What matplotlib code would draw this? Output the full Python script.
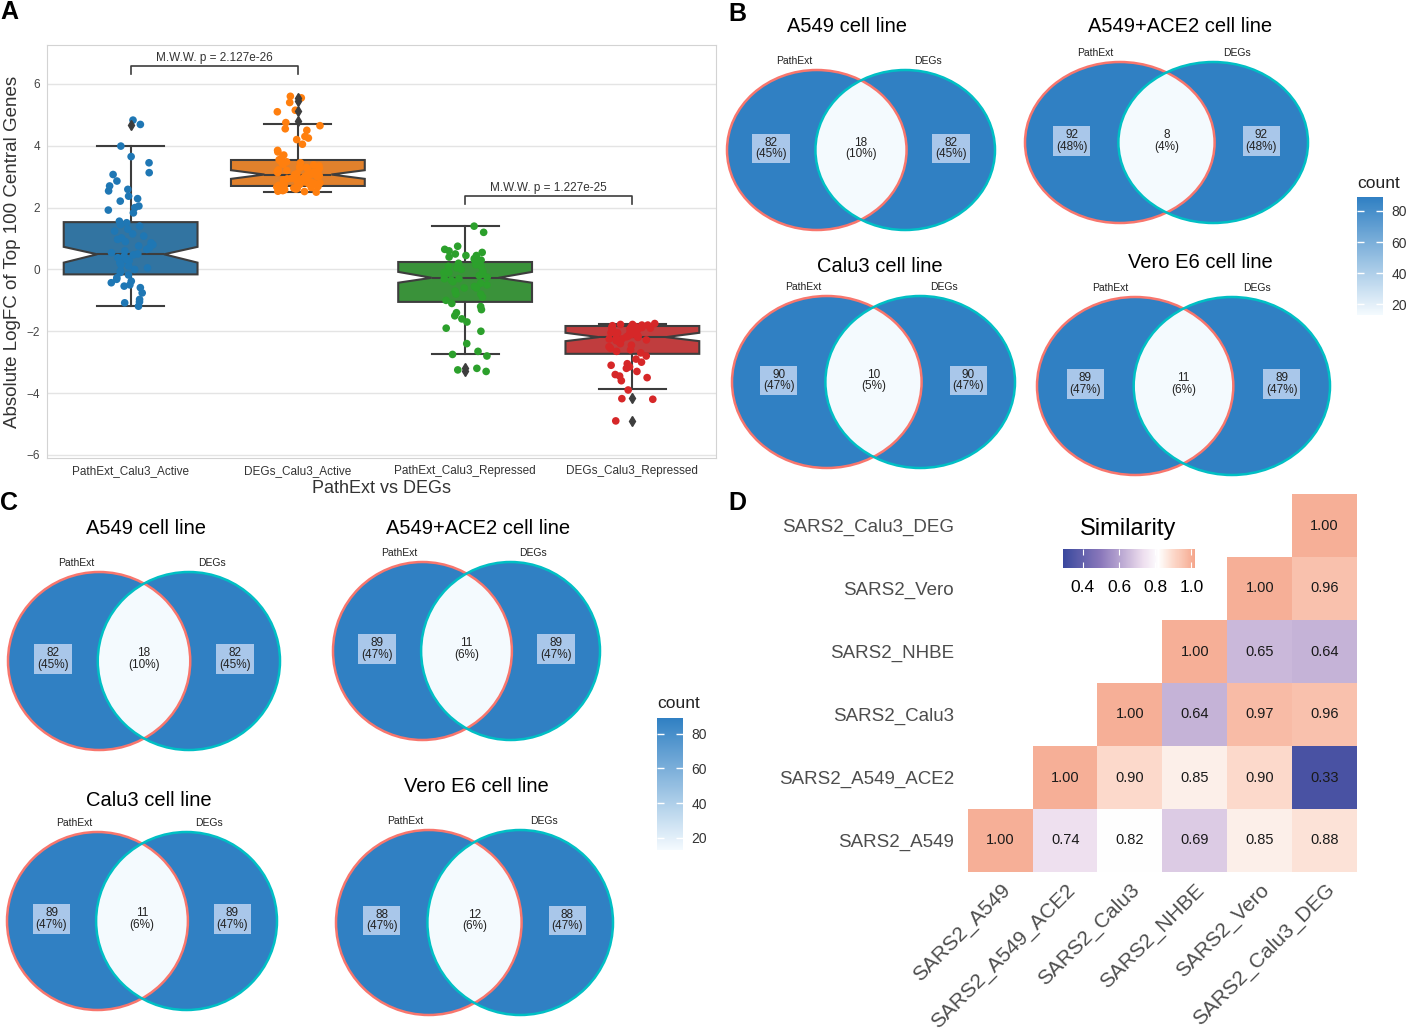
import numpy as np
import matplotlib.pyplot as plt
import seaborn as sns
from matplotlib.patches import Ellipse
from matplotlib.colors import LinearSegmentedColormap, Normalize
import matplotlib as mpl

plt.rcParams['font.family'] = ['Liberation Sans', 'DejaVu Sans']

W, H = 1408, 1032

# ---------------- panel A data ----------------
groups = ['PathExt_Calu3_Active', 'DEGs_Calu3_Active',
          'PathExt_Calu3_Repressed', 'DEGs_Calu3_Repressed']
box_q1 = [-0.16, 2.70, -1.05, -2.73]
box_med = [0.49, 3.07, -0.27, -2.19]
box_q3 = [1.53, 3.54, 0.24, -1.83]
notch_lo = [0.22, 2.93, -0.43, -2.32]
notch_hi = [0.73, 3.21, -0.08, -2.05]
whis_lo = [-1.19, 2.50, -2.75, -3.86]
whis_hi = [3.99, 4.71, 1.40, -1.75]
fliers = [[4.66], [5.55, 5.45, 5.12, 4.80], [-3.27, -3.20], [-4.15, -4.91]]

pts_pathext_active = [4.83, 4.69, 3.99, 3.65, 3.45, 3.13, 3.07, 2.86, 2.70, 2.59, 2.54,
                      2.37, 2.29, 2.21, 2.05, 2.00, 1.92, 1.83, 1.56, 1.51, 1.45, 1.40,
                      1.30, 1.24, 1.15, 1.08, 1.02, 0.97, 0.90, 0.86, 0.80, 0.76, 0.70,
                      0.65, 0.60, 0.54, 0.50, 0.47, 0.43, 0.38, 0.32, 0.28, 0.22, 0.15,
                      0.11, 0.05, 0.00, -0.05, -0.10, -0.18, -0.27, -0.32, -0.38, -0.43,
                      -0.50, -0.54, -0.59, -0.76, -0.97, -1.05, -1.08, -1.19]
pts_degs_active = [5.60, 5.55, 5.40, 5.15, 5.10, 4.75, 4.65, 4.55, 4.50, 4.30, 4.25, 4.20,
                   4.05, 3.85, 3.80, 3.70, 3.60, 3.55, 3.50, 3.45, 3.40, 3.35, 3.30, 3.28,
                   3.25, 3.20, 3.18, 3.15, 3.12, 3.10, 3.08, 3.05, 3.02, 3.00, 2.98, 2.95,
                   2.92, 2.90, 2.88, 2.85, 2.82, 2.80, 2.78, 2.75, 2.72, 2.70, 2.68, 2.65,
                   2.62, 2.60, 2.58, 2.55, 2.53, 2.50, 2.52, 2.57, 2.63, 2.67, 2.73, 2.77,
                   2.83, 2.87, 2.93, 2.97, 3.03, 3.07, 3.13, 3.17, 3.22, 3.27, 3.33, 3.38,
                   3.42, 3.48]
pts_pathext_repressed = [1.40, 1.20, 0.75, 0.65, 0.55, 0.50, 0.45, 0.40, 0.35, 0.30, 0.25,
                         0.20, 0.15, 0.10, 0.05, 0.00, -0.05, -0.10, -0.15, -0.20, -0.25,
                         -0.30, -0.35, -0.40, -0.45, -0.50, -0.55, -0.60, -0.70, -0.80,
                         -0.90, -1.00, -1.10, -1.20, -1.30, -1.40, -1.50, -1.60, -1.70,
                         -1.90, -2.00, -2.40, -2.65, -2.75, -2.80, -3.20, -3.25, -3.30,
                         0.30, 0.10, -0.10, -0.30, -0.60, -0.80, 0.45, 0.60]
pts_degs_repressed = [-1.75, -1.78, -1.80, -1.82, -1.85, -1.87, -1.90, -1.92, -1.95, -1.97,
                      -2.00, -2.02, -2.05, -2.08, -2.10, -2.12, -2.15, -2.18, -2.20, -2.22,
                      -2.25, -2.28, -2.30, -2.35, -2.40, -2.45, -2.50, -2.55, -2.60, -2.65,
                      -2.70, -2.80, -2.90, -3.00, -3.05, -3.10, -3.15, -3.20, -3.30, -3.40,
                      -3.45, -3.50, -3.60, -3.90, -4.20, -4.18, -4.90, -1.80, -1.85, -1.95,
                      -2.05, -2.15, -2.25, -1.78, -1.88, -2.00]
points = [pts_pathext_active, pts_degs_active, pts_pathext_repressed, pts_degs_repressed]
pvals = ['M.W.W. p = 2.127e-26', 'M.W.W. p = 1.227e-25']
pairs = [(0, 1), (2, 3)]
pair_y = [6.57, 2.36]

point_colors = ['#1f77b4', '#ff7f0e', '#2ca02c', '#d62728']
box_colors = ['#3274a1', '#e1812c', '#3a923a', '#c03d3e']

# ---------------- panels B / C data ----------------
set_names = ['PathExt', 'DEGs']
venn_titles = ['A549 cell line', 'A549+ACE2 cell line', 'Calu3 cell line', 'Vero E6 cell line']
venn_counts_b = [(82, 18, 82), (92, 8, 92), (90, 10, 90), (89, 11, 89)]
venn_counts_c = [(82, 18, 82), (89, 11, 89), (89, 11, 89), (88, 12, 88)]
count_ticks = [20, 40, 60, 80]

# ---------------- panel D data ----------------
sim_labels = ['SARS2_A549', 'SARS2_A549_ACE2', 'SARS2_Calu3', 'SARS2_NHBE',
              'SARS2_Vero', 'SARS2_Calu3_DEG']
sim_rows = [
    [1.00, 0.74, 0.82, 0.69, 0.85, 0.88],
    [None, 1.00, 0.90, 0.85, 0.90, 0.33],
    [None, None, 1.00, 0.64, 0.97, 0.96],
    [None, None, None, 1.00, 0.65, 0.64],
    [None, None, None, None, 1.00, 0.96],
    [None, None, None, None, None, 1.00],
]
sim_ticks = [0.4, 0.6, 0.8, 1.0]


def px(x0, y0, x1, y1):
    return [x0 / W, 1 - y1 / H, (x1 - x0) / W, (y1 - y0) / H]


fig = plt.figure(figsize=(W / 100, H / 100), dpi=100)

# ======================= A =======================
ax = fig.add_axes(px(47, 45, 716, 458))
np.random.seed(3)
xs = sum([[g] * len(v) for g, v in zip(groups, points)], [])
ys = sum(points, [])
sns.stripplot(x=xs, y=ys, order=groups, hue=xs, hue_order=groups,
              palette=point_colors, jitter=0.14, size=5.5, legend=False,
              ax=ax, zorder=3)
stats = []
for i in range(4):
    stats.append(dict(med=box_med[i], q1=box_q1[i], q3=box_q3[i],
                      cilo=notch_lo[i], cihi=notch_hi[i],
                      whislo=whis_lo[i], whishi=whis_hi[i], fliers=fliers[i]))
edge = '#3d3d3d'
bp = ax.bxp(stats, positions=range(4), widths=0.8, shownotches=True, patch_artist=True,
            boxprops=dict(edgecolor=edge, linewidth=1.5),
            whiskerprops=dict(color=edge, linewidth=1.5),
            capprops=dict(color=edge, linewidth=1.5),
            medianprops=dict(color=edge, linewidth=1.5),
            flierprops=dict(marker='d', markerfacecolor=edge, markeredgecolor=edge,
                            markersize=5),
            zorder=2)
for patch, c in zip(bp['boxes'], box_colors):
    patch.set_facecolor(c)
for fl in bp['fliers']:
    fl.set_zorder(4)

for (a, b), y, t in zip(pairs, pair_y, pvals):
    ax.plot([a, a, b, b], [y - 0.25, y, y, y - 0.25], color='#3d3d3d', lw=1.2)
    ax.text((a + b) / 2, y + 0.08, t, ha='center', va='bottom', fontsize=8.5,
            color='#333333')

ax.set_xlim(-0.5, 3.5)
ax.set_ylim(-6.1, 7.26)
ax.set_yticks([-6, -4, -2, 0, 2, 4, 6])
ax.set_xticks(range(4))
ax.set_xticklabels(groups, fontsize=8.5, color='#333333')
for lab in ax.get_yticklabels():
    lab.set_fontsize(8.5)
    lab.set_color('#444444')
ax.tick_params(length=0, pad=5)
ax.yaxis.grid(True, color='#e4e4e4', lw=1)
ax.xaxis.grid(False)
ax.set_axisbelow(True)
for s in ax.spines.values():
    s.set_color('#d3d3d3')
ax.set_xlabel('PathExt vs DEGs', fontsize=13, color='#333333', labelpad=2)
ax.set_ylabel('Absolute LogFC of Top 100 Central Genes', fontsize=13.5,
              color='#333333', labelpad=4)

# ======================= B & C =======================
count_cmap = LinearSegmentedColormap.from_list('count', ['#F4FAFE', '#3080C3'])
count_norm = Normalize(vmin=13, vmax=89, clip=True)


def draw_venn(box, counts):
    vax = fig.add_axes(px(*box))
    vax.set_xlim(0, 1)
    vax.set_ylim(0, 1)
    vax.axis('off')
    # fill scale runs from the smallest to the largest region of this diagram
    norm = Normalize(vmin=min(counts), vmax=max(counts))
    w = 0.67
    cl, cr = w / 2, 1 - w / 2
    left = Ellipse((cl, 0.5), w, 1, facecolor=count_cmap(norm(counts[0])),
                   edgecolor='none', clip_on=False)
    right = Ellipse((cr, 0.5), w, 1, facecolor=count_cmap(norm(counts[2])),
                    edgecolor='none', clip_on=False)
    vax.add_patch(left)
    vax.add_patch(right)
    inter = Ellipse((cr, 0.5), w, 1, facecolor=count_cmap(norm(counts[1])),
                    edgecolor='none')
    vax.add_patch(inter)
    inter.set_clip_path(left)
    vax.add_patch(Ellipse((cl, 0.5), w, 1, fill=False, edgecolor='#F8766D', lw=1.8,
                          clip_on=False, zorder=3))
    vax.add_patch(Ellipse((cr, 0.5), w, 1, fill=False, edgecolor='#00BFC4', lw=1.8,
                          clip_on=False, zorder=3))
    total = sum(counts)
    for x, c, boxed in [(0.165, counts[0], True), (0.5, counts[1], False),
                        (0.835, counts[2], True)]:
        bb = dict(boxstyle='square,pad=0.25', fc='#a9c7ea', ec='none') if boxed else None
        vax.text(x, 0.51, f'{c}\n({c / total:.0%})', ha='center', va='center',
                 fontsize=8.5, color='#222222', linespacing=0.95, bbox=bb, zorder=4)
    for x, name in zip([0.25, 0.75], set_names):
        vax.annotate(name, xy=(x, 1), xytext=(0, 3), textcoords='offset points',
                     ha='center', va='bottom', fontsize=7.5, color='#222222')


def draw_count_bar(box, label_xy):
    cax = fig.add_axes(px(*box))
    cb = mpl.colorbar.ColorbarBase(cax, cmap=count_cmap, norm=count_norm,
                                   ticks=count_ticks)
    cb.outline.set_visible(False)
    cax.tick_params(direction='in', color='white', length=5, width=1,
                    left=True, right=True, labelsize=10, labelcolor='#333333', pad=6)
    fig.text(label_xy[0] / W, 1 - label_xy[1] / H, 'count', fontsize=12.5,
             ha='left', va='center', color='#222222')


venn_boxes_b = [(727, 70, 995, 230), (1025, 62, 1308, 223),
                (732, 296, 1015, 468), (1037, 297, 1330, 475)]
title_pos_b = [(847, 26), (1180, 26), (880, 267), (1200, 263)]
venn_boxes_c = [(8, 572, 280, 750), (333, 562, 600, 740),
                (7, 832, 277, 1010), (336, 830, 613, 1015)]
title_pos_c = [(146, 529), (478, 529), (149, 800), (476, 787)]

for bx, tp, t, c in zip(venn_boxes_b, title_pos_b, venn_titles, venn_counts_b):
    draw_venn(bx, c)
    fig.text(tp[0] / W, 1 - tp[1] / H, t, ha='center', va='center', fontsize=14.5)
for bx, tp, t, c in zip(venn_boxes_c, title_pos_c, venn_titles, venn_counts_c):
    draw_venn(bx, c)
    fig.text(tp[0] / W, 1 - tp[1] / H, t, ha='center', va='center', fontsize=14.5)

draw_count_bar((1357, 197, 1383, 315), (1357, 183))
draw_count_bar((657, 718, 683, 850), (657, 703))

# ======================= D =======================
sim_vmin, sim_vmax = 0.29, 1.02
sim_nodes = [(0.29, '#3a479e'), (0.33, '#4952a3'), (0.50, '#8b78bb'), (0.64, '#c6b4d8'),
             (0.69, '#dccbe4'), (0.74, '#efe1f0'), (0.82, '#ffffff'), (0.85, '#fdf0ea'),
             (0.90, '#fcd9cb'), (0.96, '#f9c1ad'), (1.02, '#f5a68c')]
sim_cmap = LinearSegmentedColormap.from_list(
    'sim', [((v - sim_vmin) / (sim_vmax - sim_vmin), c) for v, c in sim_nodes])
sim_norm = Normalize(vmin=sim_vmin, vmax=sim_vmax)

M = np.array([[np.nan if v is None else v for v in r] for r in sim_rows])
hax = fig.add_axes(px(968, 494, 1357, 872))
hax.imshow(M, cmap=sim_cmap, norm=sim_norm, origin='lower', aspect='auto',
           interpolation='nearest')
for i in range(6):
    for j in range(6):
        if not np.isnan(M[i, j]):
            hax.text(j, i, f'{M[i, j]:.2f}', ha='center', va='center',
                     fontsize=10.5, color='#1a1a1a')
hax.set_xticks(range(6))
hax.set_yticks(range(6))
hax.set_xticklabels(sim_labels, rotation=45, ha='right', va='top',
                    rotation_mode='anchor', fontsize=15, color='#4d4d4d')
hax.set_yticklabels(sim_labels, fontsize=13.5, color='#4d4d4d')
hax.tick_params(length=0, pad=10)
hax.tick_params(axis='x', pad=6)
for s in hax.spines.values():
    s.set_visible(False)

lax = fig.add_axes(px(1063, 549, 1195, 568))
lcb = mpl.colorbar.ColorbarBase(lax, cmap=sim_cmap, norm=sim_norm,
                                orientation='horizontal', ticks=sim_ticks)
lcb.outline.set_visible(False)
lax.set_xticklabels([f'{t:.1f}' for t in sim_ticks])
lax.tick_params(direction='in', color='white', length=4, bottom=True, top=True,
                labelsize=12.5, pad=9)
fig.text(1128 / W, 1 - 529 / H, 'Similarity', ha='center', va='center', fontsize=17)

# panel letters
for letter, (x, y) in zip('ABCD', [(0, 12), (728, 14), (0, 503), (728, 503)]):
    fig.text(x / W, 1 - y / H, letter, fontsize=18, fontweight='bold',
             ha='left', va='center')

fig.savefig('out.png', dpi=100)
